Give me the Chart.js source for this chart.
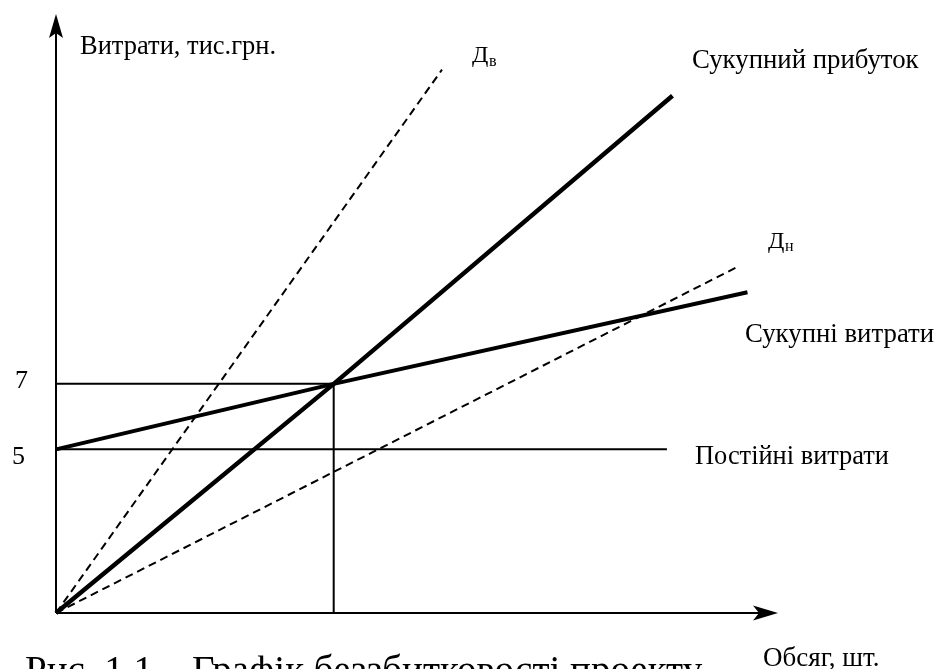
<!DOCTYPE html>
<html>
<head>
<meta charset="utf-8">
<script src="https://cdn.jsdelivr.net/npm/chart.js@4.4.0/dist/chart.umd.min.js"></script>
<style>
  body { margin: 0; background: #fff; }
  #breakEven { display: block; }
</style>
</head>
<body>
<canvas id="breakEven" width="936" height="669"></canvas>
<script>
// Break-even chart data (volume on x, costs in thousand UAH on y)
const fixedX = [0, 22];
const fixedY = [5, 5];
const totalCostX = [0, 10, 24.9];
const totalCostY = [5, 7, 9.8];
const revenueX = [0, 10, 22.2];
const revenueY = [0, 7, 15.8];
const upperX = [0, 13.9];
const upperY = [0, 16.6];
const lowerX = [0, 24.6];
const lowerY = [0, 10.6];
const breakEvenX = 10;
const breakEvenY = 7;
const yTickLabels = [5, 7];

const xMax = 26;
const yMax = 18.3;

function pts(xs, ys) {
    return xs.map((x, i) => ({ x: x, y: ys[i] }));
}

const serif = '"Liberation Serif", "Times New Roman", serif';

function line(data, width, dash) {
    return {
        data: data,
        showLine: true,
        borderColor: '#000',
        borderWidth: width,
        borderDash: dash || [],
        pointRadius: 0,
        fill: false,
        clip: false
    };
}

// axes with arrows + all the text labels
const decorations = {
    id: 'decorations',
    beforeDatasetsDraw(chart) {
        const ctx = chart.ctx;
        const a = chart.chartArea;
        const xs = chart.scales.x;
        const ys = chart.scales.y;
        const ox = xs.getPixelForValue(0);
        const oy = ys.getPixelForValue(0);
        ctx.save();
        ctx.strokeStyle = '#000';
        ctx.fillStyle = '#000';
        ctx.lineWidth = 2;
        ctx.beginPath();
        ctx.moveTo(ox, oy);
        ctx.lineTo(ox, a.top + 18);
        ctx.moveTo(ox, oy);
        ctx.lineTo(a.right - 18, oy);
        ctx.stroke();
        // y arrow
        ctx.beginPath();
        ctx.moveTo(ox, a.top);
        ctx.lineTo(ox - 7, a.top + 24);
        ctx.lineTo(ox, a.top + 19);
        ctx.lineTo(ox + 7, a.top + 24);
        ctx.closePath();
        ctx.fill();
        // x arrow
        ctx.beginPath();
        ctx.moveTo(a.right, oy);
        ctx.lineTo(a.right - 25, oy - 7.5);
        ctx.lineTo(a.right - 19, oy);
        ctx.lineTo(a.right - 25, oy + 7.5);
        ctx.closePath();
        ctx.fill();
        ctx.restore();
    },
    afterDraw(chart) {
        const ctx = chart.ctx;
        const ys = chart.scales.y;
        ctx.save();
        ctx.fillStyle = '#000';
        ctx.textBaseline = 'alphabetic';
        const txt = (s, x, y, size) => {
            ctx.font = size + 'px ' + serif;
            ctx.fillText(s, x, y);
        };
        txt('Витрати, тис.грн.', 80, 54, 26.5);
        txt('Сукупний прибуток', 692, 68, 26.8);
        txt('Сукупні витрати', 745, 342, 26.8);
        txt('Постійні витрати', 695, 464, 26.4);
        txt('Обсяг, шт.', 763, 666, 27);
        // y tick labels
        txt(String(yTickLabels[1]), 15, ys.getPixelForValue(yTickLabels[1]) + 4, 26);
        txt(String(yTickLabels[0]), 12, ys.getPixelForValue(yTickLabels[0]) + 15, 26);
        // Д with subscripts
        txt('Д', 472, 62, 24);
        txt('в', 489, 66, 16);
        txt('Д', 768, 248, 24);
        txt('н', 785, 251, 16);
        // caption
        txt('Рис. 1.1 – Графік беззбитковості проекту', 25, 683, 39);
        ctx.restore();
    }
};

new Chart(document.getElementById('breakEven').getContext('2d'), {
    type: 'scatter',
    data: {
        datasets: [
            line(pts(fixedX, fixedY), 2),
            line([{ x: 0, y: breakEvenY }, { x: breakEvenX, y: breakEvenY }], 2),
            line([{ x: breakEvenX, y: 0 }, { x: breakEvenX, y: breakEvenY }], 2),
            line(pts(upperX, upperY), 2, [8, 5]),
            line(pts(lowerX, lowerY), 2, [8, 5]),
            line(pts(totalCostX, totalCostY), 4),
            line(pts(revenueX, revenueY), 4.5)
        ]
    },
    options: {
        responsive: false,
        devicePixelRatio: 1,
        animation: false,
        layout: { padding: { left: 56, top: 14, right: 158, bottom: 56 } },
        plugins: { legend: { display: false }, tooltip: { enabled: false } },
        scales: {
            x: { type: 'linear', min: 0, max: xMax, display: false },
            y: { type: 'linear', min: 0, max: yMax, display: false }
        }
    },
    plugins: [decorations]
});
</script>
</body>
</html>
